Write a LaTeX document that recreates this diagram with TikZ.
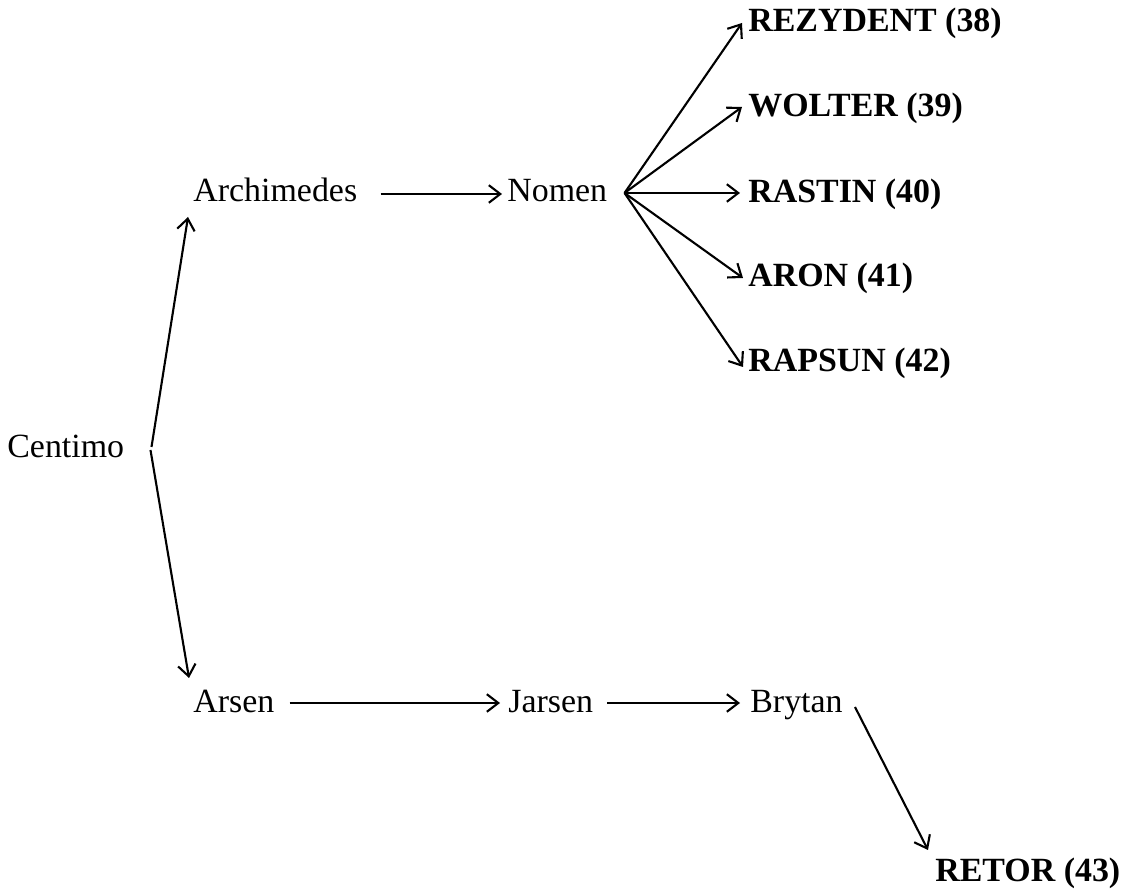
\documentclass[tikz,border=0pt]{standalone}
\usepackage{fontspec}
\setmainfont{Liberation Serif}
\usetikzlibrary{arrows.meta,positioning,calc}
\tikzset{
    word/.style={inner sep=0pt, anchor=base west, font=\fontsize{19.3}{23}\selectfont},
    leaf/.style={word, font=\fontsize{19.3}{23}\selectfont\bfseries},
    line/.style={draw, -{Straight Barb[length=6.5pt,width=10pt]}, line width=1.2pt}
}

\begin{document}
\begin{tikzpicture}[x=0.02cm, y=-0.02cm]
    \useasboundingbox (0,0) rectangle (1127,891);

    \node [word] (centimo) at (7,458) {Centimo};
    \node [word] (archimedes) at (193,202) {Archimedes};
    \node [word] (nomen) at (507,202) {Nomen};
    \node [leaf] (rezydent) at (748,32) {REZYDENT (38)};
    \node [leaf] (wolter) at (748,117) {WOLTER (39)};
    \node [leaf] (rastin) at (748,203) {RASTIN (40)};
    \node [leaf] (aron) at (748,287) {ARON (41)};
    \node [leaf] (rapsun) at (748,372) {RAPSUN (42)};
    \node [word] (arsen) at (193,713) {Arsen};
    \node [word] (jarsen) at (508,713) {Jarsen};
    \node [word] (brytan) at (750,713) {Brytan};
    \node [leaf] (retor) at (935,882) {RETOR (43)};

    \path [line] ($(centimo.base east)+(27,-11)$) -- ($(archimedes.base west)+(-5,15)$);
    \path [line] ($(centimo.base east)+(26,-8)$) -- ($(arsen.base west)+(-4,-35)$);
    \path [line] ($(archimedes.base east)+(23,-8)$) -- ($(nomen.base west)+(-5,-8)$);
    \path [line] ($(nomen.base east)+(17,-9)$) -- ($(rezydent.base west)+(-6,-9)$);
    \path [line] ($(nomen.base east)+(17,-9)$) -- ($(wolter.base west)+(-6,-10)$);
    \path [line] ($(nomen.base east)+(17,-9)$) -- ($(rastin.base west)+(-8,-10)$);
    \path [line] ($(nomen.base east)+(17,-9)$) -- ($(aron.base west)+(-5,-9)$);
    \path [line] ($(nomen.base east)+(17,-9)$) -- ($(rapsun.base west)+(-5,-5)$);
    \path [line] ($(arsen.base east)+(15,-10)$) -- ($(jarsen.base west)+(-8,-10)$);
    \path [line] ($(jarsen.base east)+(14,-10)$) -- ($(brytan.base west)+(-10,-10)$);
    \path [line] ($(brytan.base east)+(12,-6)$) -- ($(retor.base west)+(-7,-32)$);
\end{tikzpicture}
\end{document}
